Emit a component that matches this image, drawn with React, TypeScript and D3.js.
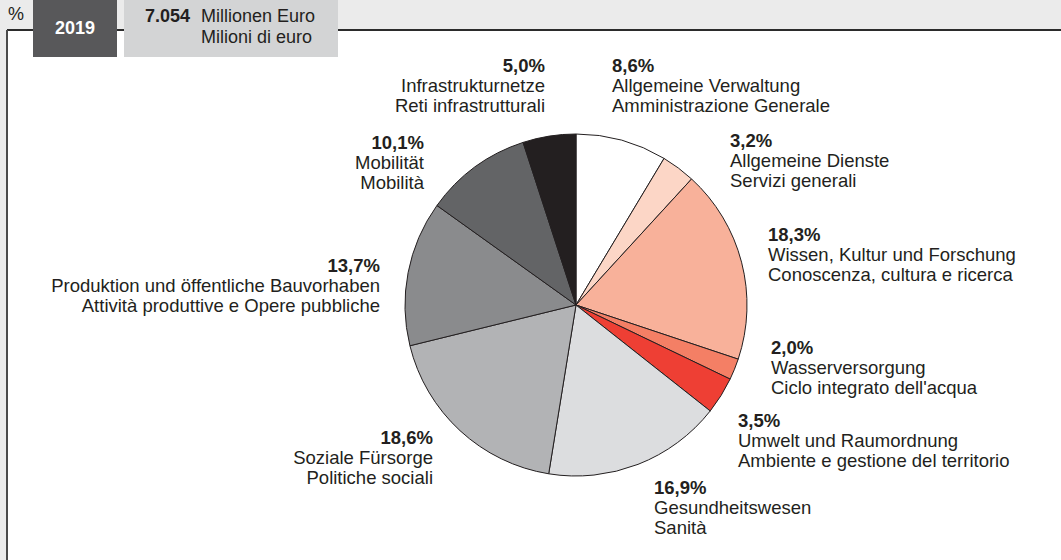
import { useEffect, useRef } from 'react';
import * as d3 from 'd3';

// shares of the 2019 budget, clockwise from 12 o'clock
const shares = [8.6, 3.2, 18.3, 2.0, 3.5, 16.9, 18.6, 13.7, 10.1, 5.0];
const shareLabels = ['8,6%', '3,2%', '18,3%', '2,0%', '3,5%', '16,9%', '18,6%', '13,7%', '10,1%', '5,0%'];
const namesDe = [
  'Allgemeine Verwaltung',
  'Allgemeine Dienste',
  'Wissen, Kultur und Forschung',
  'Wasserversorgung',
  'Umwelt und Raumordnung',
  'Gesundheitswesen',
  'Soziale Fürsorge',
  'Produktion und öffentliche Bauvorhaben',
  'Mobilität',
  'Infrastrukturnetze',
];
const namesIt = [
  'Amministrazione Generale',
  'Servizi generali',
  'Conoscenza, cultura e ricerca',
  "Ciclo integrato dell'acqua",
  'Ambiente e gestione del territorio',
  'Sanità',
  'Politiche sociali',
  'Attività produttive e Opere pubbliche',
  'Mobilità',
  'Reti infrastrutturali',
];
const colors = ['#ffffff', '#fcd6c6', '#f8b19a', '#f47f65', '#ee3f34', '#dcdddf', '#b2b3b5', '#8a8b8d', '#636466', '#231f20'];

// label anchor points: [x, y of first baseline, anchor]
const labelPos: [number, number, string][] = [
  [612, 72, 'start'],
  [730, 147, 'start'],
  [768, 241, 'start'],
  [771, 354, 'start'],
  [738, 427, 'start'],
  [654, 494, 'start'],
  [433, 444, 'end'],
  [380, 272, 'end'],
  [424, 149, 'end'],
  [545, 72, 'end'],
];

const total = '7.054';
const year = '2019';

const W = 1061;
const H = 560;

export default function App() {
  const ref = useRef<SVGSVGElement>(null);

  useEffect(() => {
    const svg = d3.select(ref.current);
    svg.selectAll('*').remove();
    const font = "'Liberation Sans', Arial, sans-serif";
    const ink = '#231f20';
    const fs = 18.5;

    svg.append('rect').attr('width', W).attr('height', H).attr('fill', '#ebebeb');
    svg.append('rect').attr('x', 7).attr('y', 30).attr('width', W - 7).attr('height', H - 30).attr('fill', '#fff');
    svg.append('line').attr('x1', 7).attr('x2', W).attr('y1', 30).attr('y2', 30).attr('stroke', '#2b2b2b').attr('stroke-width', 2);
    svg.append('line').attr('x1', 7).attr('x2', 7).attr('y1', 30).attr('y2', H).attr('stroke', '#4a4a4a').attr('stroke-width', 2);

    svg.append('text').attr('x', 8).attr('y', 20).attr('font-family', font).attr('font-size', 18).attr('fill', ink).text('%');

    svg.append('rect').attr('x', 33).attr('y', 0).attr('width', 84).attr('height', 57).attr('fill', '#58585a');
    svg.append('text').attr('x', 75).attr('y', 34).attr('text-anchor', 'middle')
      .attr('font-family', font).attr('font-size', 18).attr('font-weight', 'bold').attr('fill', '#fff').text(year);

    svg.append('rect').attr('x', 124).attr('y', 0).attr('width', 214).attr('height', 57).attr('fill', '#d3d4d5');
    svg.append('text').attr('x', 145).attr('y', 22)
      .attr('font-family', font).attr('font-size', 18).attr('font-weight', 'bold').attr('fill', ink).text(total);
    svg.append('text').attr('x', 201).attr('y', 22)
      .attr('font-family', font).attr('font-size', 18).attr('fill', ink).text('Millionen Euro');
    svg.append('text').attr('x', 201).attr('y', 43)
      .attr('font-family', font).attr('font-size', 18).attr('fill', ink).text('Milioni di euro');

    const radius = 171;
    const pie = d3.pie<number>().sort(null).value((d) => d)(shares);
    const arc = d3.arc<d3.PieArcDatum<number>>().innerRadius(0).outerRadius(radius);

    const g = svg.append('g').attr('transform', 'translate(576,305)');
    g.selectAll('path')
      .data(pie)
      .enter().append('path')
      .attr('d', arc)
      .attr('fill', (d, i) => colors[i])
      .attr('stroke', ink)
      .attr('stroke-width', 1)
      .attr('stroke-linejoin', 'round');

    labelPos.forEach(([x, y, anchor], i) => {
      const t = svg.append('text')
        .attr('x', x).attr('y', y)
        .attr('text-anchor', anchor)
        .attr('font-family', font).attr('font-size', fs).attr('fill', ink);
      t.append('tspan').attr('x', x).attr('font-weight', 'bold').text(shareLabels[i]);
      t.append('tspan').attr('x', x).attr('dy', 20).text(namesDe[i]);
      t.append('tspan').attr('x', x).attr('dy', 20).text(namesIt[i]);
    });
  }, []);

  return (
    <div style={{ position: 'absolute', left: 0, top: 0 }}>
      <svg ref={ref} width={W} height={H} style={{ display: 'block' }}></svg>
    </div>
  );
}
